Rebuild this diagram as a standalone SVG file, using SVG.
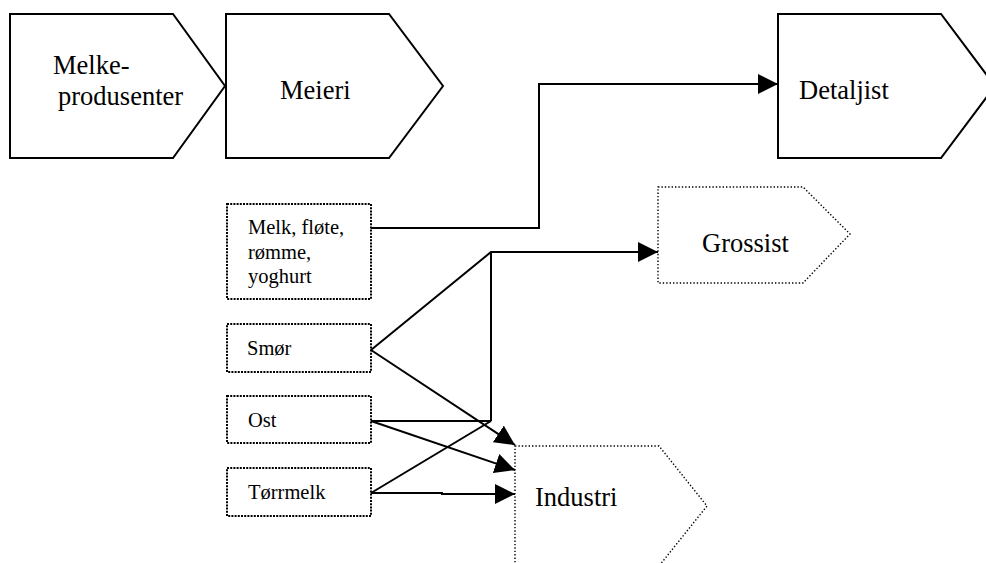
<svg xmlns="http://www.w3.org/2000/svg" width="986" height="563" viewBox="0 0 986 563">
<style>
  .solid{fill:#fff;stroke:#000;stroke-width:2}
  .dotbox{fill:#fff;stroke:#000;stroke-width:2;stroke-dasharray:2 1.2}
  .dotbig{fill:#fff;stroke:#000;stroke-width:1.4;stroke-dasharray:1.4 2}
  text{font-family:'Liberation Serif','Times New Roman',Tinos,'DejaVu Serif',serif;fill:#000}
  .big{font-size:26.5px}
  .small{font-size:20.5px}
  .conn{fill:none;stroke:#000;stroke-width:2}
</style>
<defs>
  <marker id="arr" markerUnits="userSpaceOnUse" markerWidth="21" markerHeight="20" refX="20" refY="10" orient="auto">
    <path d="M0,0 L20,10 L0,20 Z" fill="#000"/>
  </marker>
</defs>
<rect width="986" height="563" fill="#fff"/>
<g id="melkeprodusenter">
  <polygon class="solid" points="10,14 173,14 225,86 173,158 10,158"/>
  <text class="big" x="53" y="74">Melke-</text>
  <text class="big" x="58" y="105">produsenter</text>
</g>
<g id="meieri">
  <polygon class="solid" points="226,14 389,14 443,86 389,158 226,158"/>
  <text class="big" x="280" y="99">Meieri</text>
</g>
<g id="detaljist">
  <polygon class="solid" points="778,14 941,14 995,86 941,158 778,158"/>
  <text class="big" x="799" y="99">Detaljist</text>
</g>
<g id="grossist">
  <polygon class="dotbig" points="658,187 803,187 850,234 803,283 658,283"/>
  <text class="big" x="702" y="252">Grossist</text>
</g>
<g id="industri">
  <polygon class="dotbig" points="515,446 659,446 707,506 659,566 515,566"/>
  <text class="big" x="535" y="506">Industri</text>
</g>
<g id="melk">
  <rect class="dotbox" x="227" y="204" width="144" height="95"/>
  <text class="small" x="248" y="234">Melk, fløte,</text>
  <text class="small" x="248" y="259">rømme,</text>
  <text class="small" x="248" y="283">yoghurt</text>
</g>
<g id="smor">
  <rect class="dotbox" x="227" y="324" width="144" height="48"/>
  <text class="small" x="247" y="355">Smør</text>
</g>
<g id="ost">
  <rect class="dotbox" x="227" y="396" width="144" height="47"/>
  <text class="small" x="248" y="427">Ost</text>
</g>
<g id="torrmelk">
  <rect class="dotbox" x="227" y="468" width="144" height="48"/>
  <text class="small" x="248" y="499">Tørrmelk</text>
</g>
<g id="connectors">
  <polyline class="conn" points="371,228 539,228 539,84 778,84" marker-end="url(#arr)"/>
  <polyline class="conn" points="371,350 491,252 658,252" marker-end="url(#arr)"/>
  <line class="conn" x1="491" y1="252" x2="491" y2="421"/>
  <line class="conn" x1="371" y1="350" x2="515" y2="445" marker-end="url(#arr)"/>
  <line class="conn" x1="371" y1="421" x2="491" y2="421"/>
  <line class="conn" x1="371" y1="421" x2="515" y2="470" marker-end="url(#arr)"/>
  <line class="conn" x1="371" y1="493" x2="491" y2="421"/>
  <polyline class="conn" points="371,493 442,493 442,494 515,494" marker-end="url(#arr)"/>
</g>
</svg>
